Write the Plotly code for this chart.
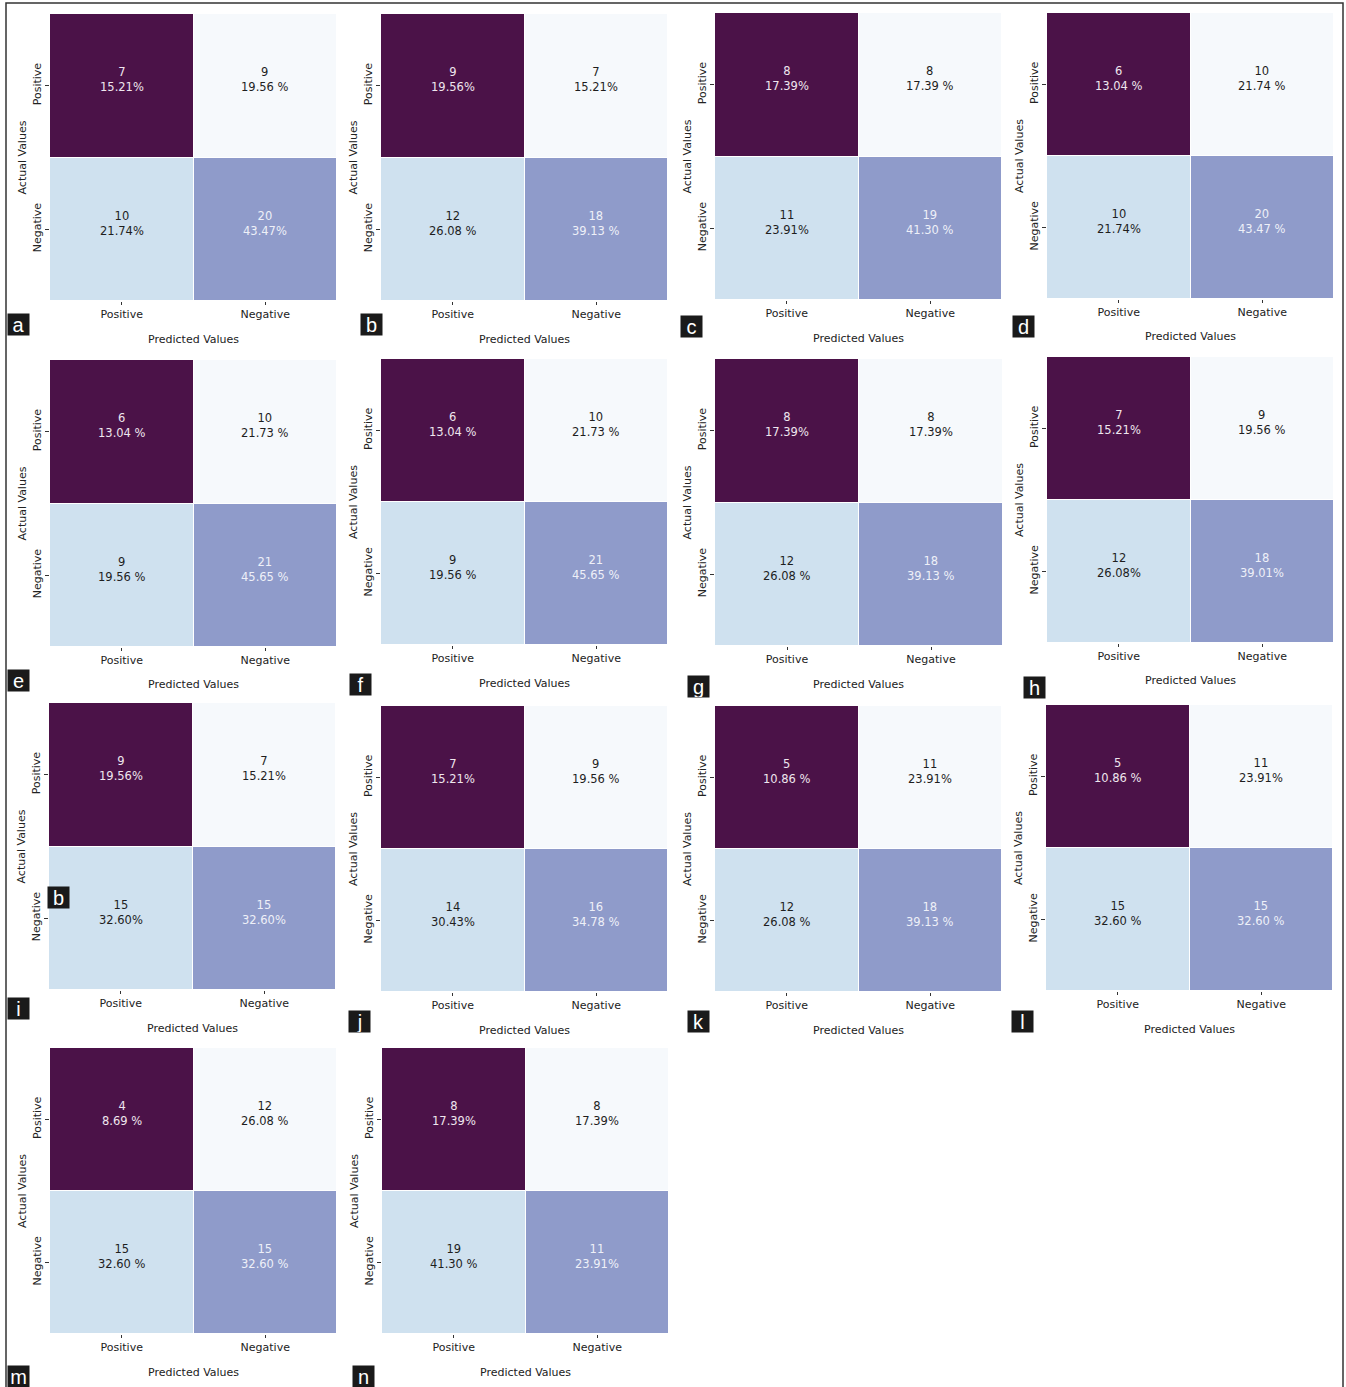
import plotly.graph_objects as go

W, H = 1346, 1387

# Panel letters and confusion-matrix contents (row-major: [TP, FN, FP, TN])
panels = ["a", "b", "c", "d", "e", "f", "g", "h", "i", "j", "k", "l", "m", "n"]
counts = [
    [7, 9, 10, 20],
    [9, 7, 12, 18],
    [8, 8, 11, 19],
    [6, 10, 10, 20],
    [6, 10, 9, 21],
    [6, 10, 9, 21],
    [8, 8, 12, 18],
    [7, 9, 12, 18],
    [9, 7, 15, 15],
    [7, 9, 14, 16],
    [5, 11, 12, 18],
    [5, 11, 15, 15],
    [4, 12, 15, 15],
    [8, 8, 19, 11],
]
percents = [
    ["15.21%", "19.56 %", "21.74%", "43.47%"],
    ["19.56%", "15.21%", "26.08 %", "39.13 %"],
    ["17.39%", "17.39 %", "23.91%", "41.30 %"],
    ["13.04 %", "21.74 %", "21.74%", "43.47 %"],
    ["13.04 %", "21.73 %", "19.56 %", "45.65 %"],
    ["13.04 %", "21.73 %", "19.56 %", "45.65 %"],
    ["17.39%", "17.39%", "26.08 %", "39.13 %"],
    ["15.21%", "19.56 %", "26.08%", "39.01%"],
    ["19.56%", "15.21%", "32.60%", "32.60%"],
    ["15.21%", "19.56 %", "30.43%", "34.78 %"],
    ["10.86 %", "23.91%", "26.08 %", "39.13 %"],
    ["10.86 %", "23.91%", "32.60 %", "32.60 %"],
    ["8.69 %", "26.08 %", "32.60 %", "32.60 %"],
    ["17.39%", "17.39%", "41.30 %", "23.91%"],
]
tick_labels = ["Positive", "Negative"]
x_title = "Predicted Values"
y_title = "Actual Values"

# Cell shading category by position (TP, FN, FP, TN)
cell_class = [[0, 1], [2, 3]]
cell_colors = ["#4b1248", "#f6f9fc", "#cfe1ef", "#8f9bca"]
text_colors = ["#efe6ee", "#1e1e1e", "#1e1e1e", "#eef0f8"]

# Heatmap boxes in pixels: (left, right, top, bottom)
boxes = [
    (50, 337, 14, 301), (381, 668, 14, 301), (715, 1002, 13, 300), (1047, 1334, 13, 299),
    (50, 337, 360, 647), (381, 668, 359, 645), (715, 1003, 359, 646), (1047, 1334, 357, 643),
    (49, 336, 703, 990), (381, 668, 706, 992), (715, 1002, 706, 992), (1046, 1333, 705, 991),
    (50, 337, 1048, 1334), (382, 669, 1048, 1334),
]
# Panel letter badge centres in pixels
badges = [
    (18.5, 324), (371.5, 324.5), (691.5, 326.5), (1023, 326.5),
    (18.5, 681), (360, 684), (698.5, 686), (1034, 687),
    (18.5, 1008), (359, 1021), (698.5, 1021), (1022.5, 1021),
    (18.5, 1376), (363, 1376),
]
extra_badges = [("b", 59, 897)]

FONT = "DejaVu Sans"


def px(x):
    return x / W


def py(y):
    return 1 - y / H


n_cls = len(cell_colors)
colorscale = []
for k, c in enumerate(cell_colors):
    colorscale.append([k / n_cls, c])
    colorscale.append([(k + 1) / n_cls, c])


def badge(letter, bx, by):
    return dict(
        x=px(bx), y=py(by), xref="paper", yref="paper", text=letter,
        showarrow=False, xanchor="center", yanchor="middle",
        width=21, height=21, bgcolor="#1a1a1a", borderpad=0,
        font=dict(family="Liberation Sans", size=20, color="white"),
    )


fig = go.Figure()
annotations = []

for i, letter in enumerate(panels):
    left, right, top, bottom = boxes[i]
    ax = "" if i == 0 else str(i + 1)
    c = counts[i]
    p = percents[i]
    fig.add_trace(go.Heatmap(
        x=tick_labels, y=tick_labels, z=cell_class,
        colorscale=colorscale, zmin=-0.5, zmax=n_cls - 0.5,
        showscale=False, xgap=1, ygap=1, hoverinfo="skip",
        xaxis="x" + ax, yaxis="y" + ax,
    ))
    fig.layout["xaxis" + ax] = dict(
        domain=[px(left), px(right)], anchor="y" + ax,
        range=[-0.5, 1.5], showgrid=False, zeroline=False, showline=False,
        ticks="outside", ticklen=3, tickwidth=1, tickcolor="#333",
        tickfont=dict(family=FONT, size=11, color="#222"), fixedrange=True,
    )
    fig.layout["yaxis" + ax] = dict(
        domain=[py(bottom), py(top)], anchor="x" + ax,
        range=[1.5, -0.5], showgrid=False, zeroline=False, showline=False,
        ticks="outside", ticklen=4, tickwidth=1, tickcolor="#333", tickangle=-90,
        tickfont=dict(family=FONT, size=11, color="#222"), fixedrange=True,
    )
    for r in range(2):
        for col in range(2):
            k = r * 2 + col
            annotations.append(dict(
                x=tick_labels[col], y=tick_labels[r], xref="x" + ax, yref="y" + ax,
                text=f"{c[k]}<br>{p[k]}", showarrow=False, yshift=6,
                font=dict(family=FONT, size=11.5, color=text_colors[cell_class[r][col]]),
            ))
    # axis titles
    annotations.append(dict(
        x=px((left + right) / 2), y=py(bottom + 38), xref="paper", yref="paper",
        text=x_title, showarrow=False, xanchor="center", yanchor="middle",
        font=dict(family=FONT, size=11, color="#222"),
    ))
    annotations.append(dict(
        x=px(left - 28), y=py((top + bottom) / 2), xref="paper", yref="paper",
        text=y_title, showarrow=False, textangle=-90, xanchor="center", yanchor="middle",
        font=dict(family=FONT, size=11, color="#222"),
    ))
    annotations.append(badge(letter, *badges[i]))

for letter, bx, by in extra_badges:
    annotations.append(badge(letter, bx, by))

fig.update_layout(
    width=W, height=H, margin=dict(l=0, r=0, t=0, b=0),
    paper_bgcolor="white", plot_bgcolor="white",
    annotations=annotations,
    shapes=[dict(
        type="rect", xref="paper", yref="paper",
        x0=px(6), x1=px(1343), y0=py(1400), y1=py(3),
        line=dict(color="#333", width=1.5), fillcolor="rgba(0,0,0,0)",
    )],
)

fig.write_html("out.html")
